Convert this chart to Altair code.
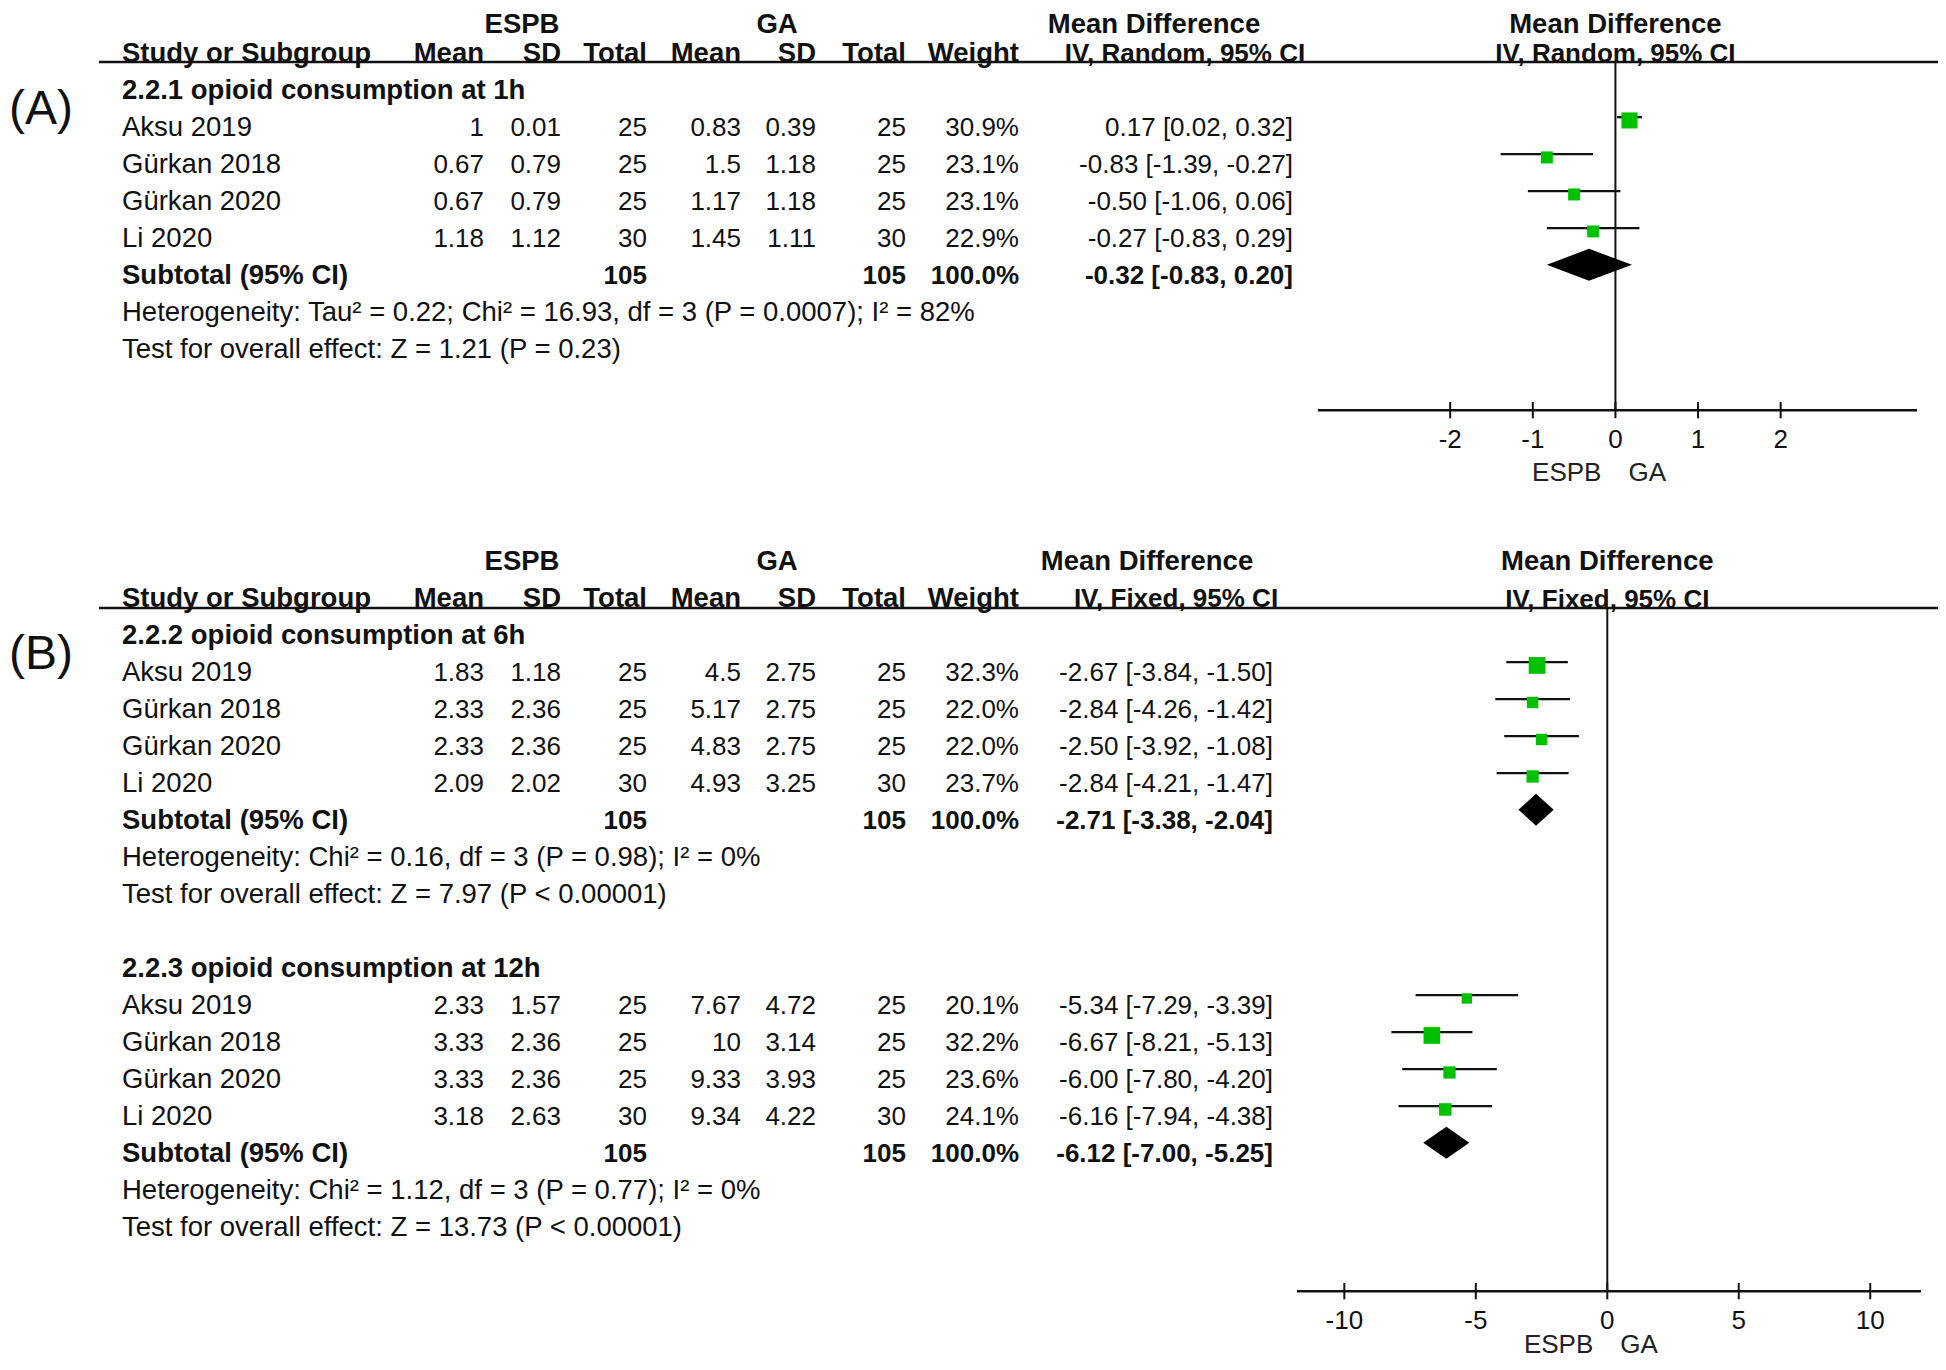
import altair as alt
import pandas as pd

# ---------------- data ----------------
studies = ["Aksu 2019", "Gürkan 2018", "Gürkan 2020", "Li 2020"]
espb_total = [25, 25, 25, 30]
ga_total = [25, 25, 25, 30]

# 2.2.1 opioid consumption at 1h
espb_mean_1h = [1, 0.67, 0.67, 1.18]
espb_sd_1h = [0.01, 0.79, 0.79, 1.12]
ga_mean_1h = [0.83, 1.5, 1.17, 1.45]
ga_sd_1h = [0.39, 1.18, 1.18, 1.11]
weight_1h = [30.9, 23.1, 23.1, 22.9]
md_1h = [0.17, -0.83, -0.50, -0.27]
lo_1h = [0.02, -1.39, -1.06, -0.83]
hi_1h = [0.32, -0.27, 0.06, 0.29]
sub_1h = [-0.32, -0.83, 0.20]
het_1h = "Heterogeneity: Tau² = 0.22; Chi² = 16.93, df = 3 (P = 0.0007); I² = 82%"
test_1h = "Test for overall effect: Z = 1.21 (P = 0.23)"

# 2.2.2 opioid consumption at 6h
espb_mean_6h = [1.83, 2.33, 2.33, 2.09]
espb_sd_6h = [1.18, 2.36, 2.36, 2.02]
ga_mean_6h = [4.5, 5.17, 4.83, 4.93]
ga_sd_6h = [2.75, 2.75, 2.75, 3.25]
weight_6h = [32.3, 22.0, 22.0, 23.7]
md_6h = [-2.67, -2.84, -2.50, -2.84]
lo_6h = [-3.84, -4.26, -3.92, -4.21]
hi_6h = [-1.50, -1.42, -1.08, -1.47]
sub_6h = [-2.71, -3.38, -2.04]
het_6h = "Heterogeneity: Chi² = 0.16, df = 3 (P = 0.98); I² = 0%"
test_6h = "Test for overall effect: Z = 7.97 (P < 0.00001)"

# 2.2.3 opioid consumption at 12h
espb_mean_12h = [2.33, 3.33, 3.33, 3.18]
espb_sd_12h = [1.57, 2.36, 2.36, 2.63]
ga_mean_12h = [7.67, 10, 9.33, 9.34]
ga_sd_12h = [4.72, 3.14, 3.93, 4.22]
weight_12h = [20.1, 32.2, 23.6, 24.1]
md_12h = [-5.34, -6.67, -6.00, -6.16]
lo_12h = [-7.29, -8.21, -7.80, -7.94]
hi_12h = [-3.39, -5.13, -4.20, -4.38]
sub_12h = [-6.12, -7.00, -5.25]
het_12h = "Heterogeneity: Chi² = 1.12, df = 3 (P = 0.77); I² = 0%"
test_12h = "Test for overall effect: Z = 13.73 (P < 0.00001)"

ticks_A = [-2, -1, 0, 1, 2]
ticks_B = [-10, -5, 0, 5, 10]

# ---------------- layout ----------------
W, H = 1930, 1352
ROW_PX, ROW0_PX = 37.0, 7.0          # row 0 centre, px from the top of the view
FONT = "Liberation Sans"
FS_NUM = 26                           # numeric columns
FS_TXT = 27.5                         # words
BASE_B = 14.73                        # first row of panel B
TOP_A = 0.22                          # header row of panel A (kept inside the view)

yscale = alt.Scale(domain=[(H - ROW0_PX) / ROW_PX, -ROW0_PX / ROW_PX],
                   nice=False, zero=False)


def Y(f):
    return alt.Y(f, type="quantitative", scale=yscale, axis=None)


X_STUDY, X_EMEAN, X_ESD, X_ETOT = 114, 476, 553, 639
X_GMEAN, X_GSD, X_GTOT, X_WEIGHT = 733, 808, 898, 1011
X_ESPB_HDR, X_GA_HDR, X_LABEL = 514, 769, 1

records = []


def add(row, text, x, align, bold=False, size=FS_NUM):
    records.append(dict(row=row, text=str(text), x=x, align=align,
                        bold=bold, size=size))


def fmt(v):
    return f"{v:g}"


def subgroup(base, title, em, es, gm, gs, w, md, lo, hi, sub, het, test, x_md):
    add(base, title, X_STUDY, "left", True, FS_TXT)
    for i, s in enumerate(studies):
        r = base + 1 + i
        add(r, s, X_STUDY, "left", False, FS_TXT)
        add(r, fmt(em[i]), X_EMEAN, "right")
        add(r, fmt(es[i]), X_ESD, "right")
        add(r, espb_total[i], X_ETOT, "right")
        add(r, fmt(gm[i]), X_GMEAN, "right")
        add(r, fmt(gs[i]), X_GSD, "right")
        add(r, ga_total[i], X_GTOT, "right")
        add(r, f"{w[i]:.1f}%", X_WEIGHT, "right")
        add(r, f"{md[i]:.2f} [{lo[i]:.2f}, {hi[i]:.2f}]", x_md, "right")
    r = base + 5
    add(r, "Subtotal (95% CI)", X_STUDY, "left", True, FS_TXT)
    add(r, sum(espb_total), X_ETOT, "right", True)
    add(r, sum(ga_total), X_GTOT, "right", True)
    add(r, f"{sum(w):.1f}%", X_WEIGHT, "right", True)
    add(r, f"{sub[0]:.2f} [{sub[1]:.2f}, {sub[2]:.2f}]", x_md, "right", True)
    add(base + 6, het, X_STUDY, "left", False, FS_TXT)
    add(base + 7, test, X_STUDY, "left", False, FS_TXT)


def header(base, top, x_mdh, x_mds, method, label):
    add(top, "ESPB", X_ESPB_HDR, "center", True, FS_TXT)
    add(top, "GA", X_GA_HDR, "center", True, FS_TXT)
    add(top, "Mean Difference", x_mdh, "center", True, FS_TXT)
    r = base + 1
    add(r, "Study or Subgroup", X_STUDY, "left", True, FS_TXT)
    add(r, "Mean", X_EMEAN, "right", True, FS_TXT)
    add(r, "SD", X_ESD, "right", True, FS_TXT)
    add(r, "Total", X_ETOT, "right", True, FS_TXT)
    add(r, "Mean", X_GMEAN, "right", True, FS_TXT)
    add(r, "SD", X_GSD, "right", True, FS_TXT)
    add(r, "Total", X_GTOT, "right", True, FS_TXT)
    add(r, "Weight", X_WEIGHT, "right", True, FS_TXT)
    add(r, method, x_mds, "center", True, FS_NUM)
    add(base + 2.5, label, X_LABEL, "left", False, 48)


header(0, TOP_A, 1146, 1177, "IV, Random, 95% CI", "(A)")
subgroup(2, "2.2.1 opioid consumption at 1h", espb_mean_1h, espb_sd_1h,
         ga_mean_1h, ga_sd_1h, weight_1h, md_1h, lo_1h, hi_1h, sub_1h,
         het_1h, test_1h, 1285)
header(BASE_B, BASE_B, 1139, 1168, "IV, Fixed, 95% CI", "(B)")
subgroup(BASE_B + 2, "2.2.2 opioid consumption at 6h", espb_mean_6h, espb_sd_6h,
         ga_mean_6h, ga_sd_6h, weight_6h, md_6h, lo_6h, hi_6h, sub_6h,
         het_6h, test_6h, 1265)
subgroup(BASE_B + 11, "2.2.3 opioid consumption at 12h", espb_mean_12h,
         espb_sd_12h, ga_mean_12h, ga_sd_12h, weight_12h, md_12h, lo_12h,
         hi_12h, sub_12h, het_12h, test_12h, 1265)

tdf = pd.DataFrame(records)
text_layers = []
for (x, align, bold, size), g in tdf.groupby(["x", "align", "bold", "size"]):
    text_layers.append(
        alt.Chart(g[["row", "text"]]).mark_text(
            align=align, baseline="middle", font=FONT, fontSize=float(size),
            fontWeight="bold" if bold else "normal", color="#111111", dy=2
        ).encode(x=alt.value(int(x)), y=Y("row"), text="text:N")
    )

# header rules (under the column titles)
hdr_df = pd.DataFrame({"row": [1.27, BASE_B + 1.3]})
hdr_rule = alt.Chart(hdr_df).mark_rule(color="#111111", strokeWidth=2.5).encode(
    x=alt.value(91), x2=alt.value(W), y=Y("row"))

SIZE_SCALE = alt.Scale(type="pow", exponent=2, domain=[0, 35], range=[0, 330])


def forest(groups, base_rows, domain, rng, ticks, hdr_row, axis_row, method,
           top_row, title_off):
    sc = alt.Scale(domain=domain, range=rng, nice=False, zero=False)

    def X(f):
        return alt.X(f, type="quantitative", scale=sc, axis=None)

    st, dia = [], []
    for gi, ((md, lo, hi, w, sub), b) in enumerate(zip(groups, base_rows)):
        for i in range(4):
            r = b + 1 + i
            st.append(dict(md=md[i], lo=lo[i], hi=hi[i], w=w[i],
                           ci_row=r - 0.24, sq_row=r - 0.15))
        r = b + 5 - 0.25
        h = 0.43
        dia += [dict(g=gi, x=sub[1], y=r, y2=r),
                dict(g=gi, x=sub[0], y=r - h, y2=r + h),
                dict(g=gi, x=sub[2], y=r, y2=r)]
    sdf, ddf = pd.DataFrame(st), pd.DataFrame(dia)

    ci = alt.Chart(sdf).mark_rule(color="#111111", strokeWidth=2.4).encode(
        x=X("lo"), x2="hi", y=Y("ci_row"))
    sq = alt.Chart(sdf).mark_square(color="#00c000", opacity=1).encode(
        x=X("md"), y=Y("sq_row"),
        size=alt.Size("w:Q", scale=SIZE_SCALE, legend=None))
    dm = alt.Chart(ddf).mark_area(color="black", orient="vertical",
                                  opacity=1).encode(
        x=X("x"), y=Y("y"), y2="y2", detail="g:N")
    zdf = pd.DataFrame({"v": [0], "y0": [hdr_row], "y1": [axis_row]})
    zero = alt.Chart(zdf).mark_rule(color="#111111", strokeWidth=2).encode(
        x=X("v"), y=Y("y0"), y2="y1")
    adf = pd.DataFrame({"x0": [domain[0]], "x1": [domain[1]], "y": [axis_row]})
    axis_line = alt.Chart(adf).mark_rule(color="#111111", strokeWidth=2.5).encode(
        x=X("x0"), x2="x1", y=Y("y"))
    tdf_ = pd.DataFrame({"t": ticks, "lab": [str(t) for t in ticks],
                         "y0": [axis_row - 0.22] * len(ticks),
                         "y1": [axis_row + 0.22] * len(ticks),
                         "yl": [axis_row + 0.8] * len(ticks)})
    tk = alt.Chart(tdf_).mark_rule(color="#111111", strokeWidth=2).encode(
        x=X("t"), y=Y("y0"), y2="y1")
    tl = alt.Chart(tdf_).mark_text(font=FONT, fontSize=FS_NUM, baseline="middle",
                                   color="#111111").encode(
        x=X("t"), y=Y("yl"), text="lab:N")
    ttl = pd.DataFrame({"v": [0], "y": [axis_row + title_off]})
    t1 = alt.Chart(ttl).mark_text(font=FONT, fontSize=FS_NUM, baseline="middle",
                                  align="right", dx=-14, color="#222222",
                                  text="ESPB").encode(x=X("v"), y=Y("y"))
    t2 = alt.Chart(ttl).mark_text(font=FONT, fontSize=FS_NUM, baseline="middle",
                                  align="left", dx=13, color="#222222",
                                  text="GA").encode(x=X("v"), y=Y("y"))
    hdf = pd.DataFrame({"v": [0], "row": [top_row]})
    hd1 = alt.Chart(hdf).mark_text(font=FONT, fontSize=FS_TXT, fontWeight="bold",
                                   baseline="middle", color="#111111", dy=2,
                                   text="Mean Difference").encode(
        x=X("v"), y=Y("row"))
    hdf2 = pd.DataFrame({"v": [0], "row": [hdr_row - 0.27]})
    hd2 = alt.Chart(hdf2).mark_text(font=FONT, fontSize=FS_NUM, fontWeight="bold",
                                    baseline="middle", color="#111111", dy=2,
                                    text=method).encode(
        x=X("v"), y=Y("row"))
    return alt.layer(zero, axis_line, tk, tl, t1, t2, hd1, hd2, ci, dm, sq)


forest_A = forest([(md_1h, lo_1h, hi_1h, weight_1h, sub_1h)], [2],
                  [-3.6, 3.65], [1310, 1909], ticks_A, 1.27, 10.68,
                  "IV, Random, 95% CI", TOP_A, 1.7)
forest_B = forest([(md_6h, lo_6h, hi_6h, weight_6h, sub_6h),
                   (md_12h, lo_12h, hi_12h, weight_12h, sub_12h)],
                  [BASE_B + 2, BASE_B + 11],
                  [-11.8, 11.93], [1289, 1913], ticks_B, BASE_B + 1.3,
                  BASE_B + 19.76, "IV, Fixed, 95% CI", BASE_B, 1.45)

chart = alt.layer(hdr_rule, *text_layers, forest_A, forest_B).resolve_scale(
    x="independent"
).properties(
    width=W, height=H, padding=0,
    autosize=alt.AutoSizeParams(type="none"),
).configure_view(stroke=None)

chart.save("out.html", embed_options={"renderer": "svg", "actions": False})
